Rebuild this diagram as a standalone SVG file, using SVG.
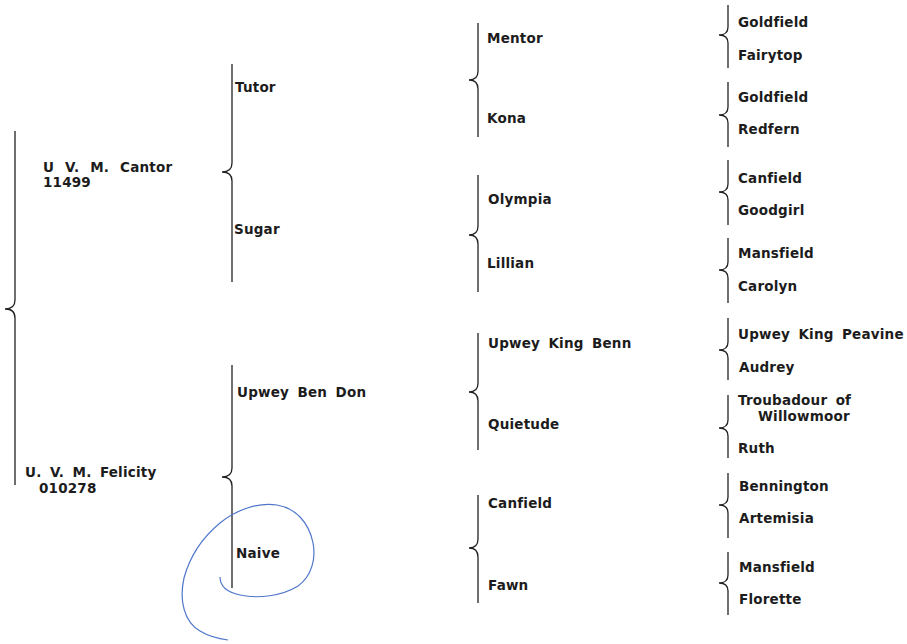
<svg xmlns="http://www.w3.org/2000/svg" width="907" height="644" viewBox="0 0 907 644">
<style>
text{font-family:"DejaVu Sans","Liberation Sans",sans-serif;font-weight:bold;font-size:13.5px;fill:#1c1c1c;word-spacing:3.5px;letter-spacing:0.2px}
.br{fill:none;stroke:#222;stroke-width:1.3}
</style>
<rect width="907" height="644" fill="#ffffff"/>
<g id="connectors">
<path class="br" d="M15,131 V300 C15,306 12,309 5,309 C12,309 15,312 15,318 V485"/>
<path class="br" d="M232,64 V163 C232,169 229,172 222,172 C229,172 232,175 232,181 V282"/>
<path class="br" d="M232,365 V468 C232,474 229,477 222,477 C229,477 232,480 232,486 V588"/>
<path class="br" d="M478,23 V71 C478,77 475,80 469,80 C475,80 478,83 478,89 V137"/>
<path class="br" d="M478,175 V226 C478,232 475,235 469,235 C475,235 478,238 478,244 V292"/>
<path class="br" d="M478,333 V383 C478,389 475,392 469,392 C475,392 478,395 478,401 V450"/>
<path class="br" d="M478,495 V539 C478,545 475,548 469,548 C475,548 478,551 478,557 V603"/>
<path class="br" d="M728,5 V27 C728,32 725,35 719,35 C725,35 728,38 728,43 V68"/>
<path class="br" d="M728,82 V107 C728,112 725,115 719,115 C725,115 728,118 728,123 V147"/>
<path class="br" d="M728,160 V184 C728,189 725,192 719,192 C725,192 728,195 728,200 V225"/>
<path class="br" d="M728,238 V262 C728,267 725,270 719,270 C725,270 728,273 728,278 V303"/>
<path class="br" d="M728,318 V342 C728,347 725,350 719,350 C725,350 728,353 728,358 V380"/>
<path class="br" d="M728,395 V420 C728,425 725,428 719,428 C725,428 728,431 728,436 V458"/>
<path class="br" d="M728,473 V497 C728,502 725,505 719,505 C725,505 728,508 728,513 V538"/>
<path class="br" d="M728,552 V575 C728,580 725,583 719,583 C725,583 728,586 728,591 V615"/>
</g>
<g id="cantor"><text x="43" y="172" style="word-spacing:6px">U V. M. Cantor</text><text x="43" y="187">11499</text></g>
<g id="felicity"><text x="25" y="477">U. V. M. Felicity</text><text x="39" y="493">010278</text></g>
<g id="tutor"><text x="235" y="92">Tutor</text></g>
<g id="sugar"><text x="234" y="234">Sugar</text></g>
<g id="upwey-ben-don"><text x="237" y="397">Upwey Ben Don</text></g>
<g id="naive"><text x="236" y="558">Naive</text></g>
<g id="mentor"><text x="487" y="43">Mentor</text></g>
<g id="kona"><text x="487" y="123">Kona</text></g>
<g id="olympia"><text x="488" y="204">Olympia</text></g>
<g id="lillian"><text x="487" y="268">Lillian</text></g>
<g id="upwey-king-benn"><text x="488" y="348">Upwey King Benn</text></g>
<g id="quietude"><text x="488" y="429">Quietude</text></g>
<g id="canfield-3"><text x="488" y="508">Canfield</text></g>
<g id="fawn"><text x="488" y="590">Fawn</text></g>
<g id="goldfield-1"><text x="738" y="27">Goldfield</text></g>
<g id="fairytop"><text x="738" y="60">Fairytop</text></g>
<g id="goldfield-2"><text x="738" y="102">Goldfield</text></g>
<g id="redfern"><text x="738" y="134">Redfern</text></g>
<g id="canfield-4"><text x="738" y="183">Canfield</text></g>
<g id="goodgirl"><text x="738" y="215">Goodgirl</text></g>
<g id="mansfield-1"><text x="738" y="258">Mansfield</text></g>
<g id="carolyn"><text x="738" y="291">Carolyn</text></g>
<g id="upwey-king-peavine"><text x="738" y="339">Upwey King Peavine</text></g>
<g id="audrey"><text x="739" y="372">Audrey</text></g>
<g id="troubadour"><text x="738" y="405">Troubadour of</text><text x="758" y="421">Willowmoor</text></g>
<g id="ruth"><text x="738" y="453">Ruth</text></g>
<g id="bennington"><text x="739" y="491">Bennington</text></g>
<g id="artemisia"><text x="739" y="523">Artemisia</text></g>
<g id="mansfield-2"><text x="739" y="572">Mansfield</text></g>
<g id="florette"><text x="739" y="604">Florette</text></g>
<path d="M220,577 C220,585 226,592 240,595 C258,599 282,596 298,586 C312,576 316,558 313,543 C309,522 295,508 277,505 C258,502 236,510 220,523 C203,537 190,556 184,578 C179,600 184,622 200,631 C210,637 220,639 228,640" fill="none" stroke="#4f76c9" stroke-width="1.2"/>
</svg>
